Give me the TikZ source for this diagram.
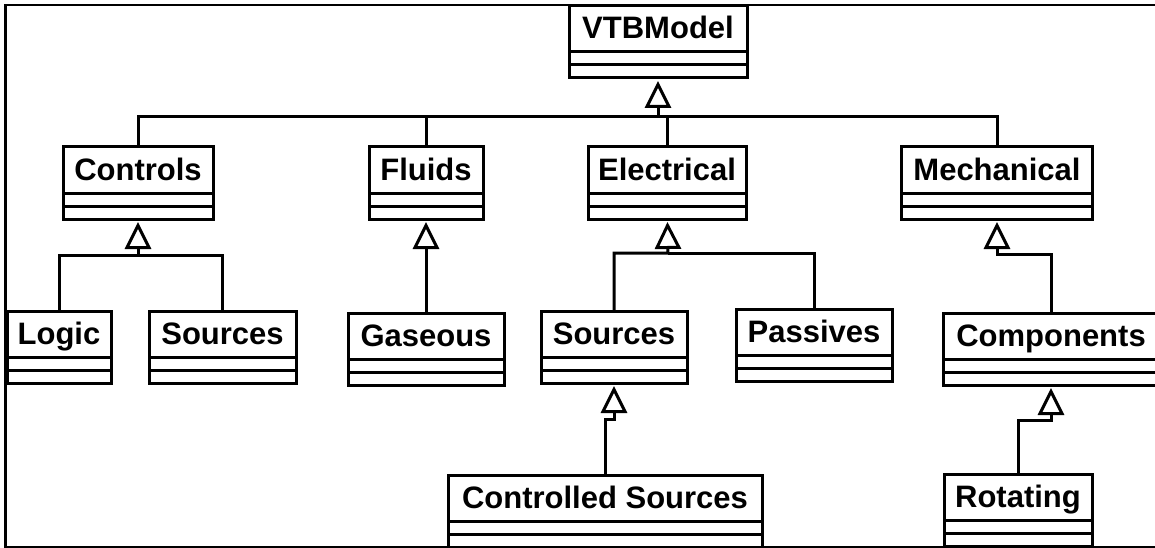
\documentclass[tikz,border=0pt]{standalone}
\usepackage{fontspec}
\setmainfont{Liberation Sans}
\usetikzlibrary{arrows.meta}

\newcommand{\compartments}[1]{%
  \draw[comp] (#1.south west) -- ++(0,26) -| (#1.south east)
    ([yshift=-13pt]#1.south west) -- ([yshift=-13pt]#1.south east);}

\begin{document}
\begin{tikzpicture}[x=1pt, y=-1pt,
    cls/.style = {draw, line width=3pt, inner sep=0pt, outer sep=0pt, minimum height=46pt,
      text height=22pt, text depth=2pt, font=\fontsize{31}{31}\selectfont\bfseries},
    comp/.style = {draw, line width=3pt},
    link/.style = {draw, line width=3pt},
    inh/.style = {link, -{Triangle[open, length=27pt, width=26pt, fill=white]}, shorten >=29pt}]
  \useasboundingbox (0,0) rectangle (1155,548);
  \clip (0,0) rectangle (1155,548);
  \draw[line width=2.2pt] (1155,5) -- (5.5,5) -- (5.5,547) -- (1155,547);

  \node[cls, minimum width=178] (vtb) at (658,29) {VTBModel};
  \node[cls, minimum width=150] (controls) at (138,170) {Controls};
  \node[cls, minimum width=114] (fluids) at (426,170) {Fluids};
  \node[cls, minimum width=158] (electrical) at (667,170) {Electrical};
  \node[cls, minimum width=191] (mechanical) at (997,170) {Mechanical};
  \node[cls, minimum width=104] (logic) at (59,334) {Logic};
  \node[cls, minimum width=147] (srcctrl) at (222.5,334) {Sources};
  \node[cls, minimum width=156] (gaseous) at (426,336) {Gaseous};
  \node[cls, minimum width=146] (srcelec) at (614,334) {Sources};
  \node[cls, minimum width=156] (passives) at (814,332) {Passives};
  \node[cls, minimum width=216] (components) at (1051,336) {Components};
  \node[cls, minimum width=314] (ctrlsrc) at (605,498) {Controlled Sources};
  \node[cls, minimum width=148] (rotating) at (1018,497) {Rotating};

  \foreach \n in {vtb, controls, fluids, electrical, mechanical, logic, srcctrl,
    gaseous, srcelec, passives, components, ctrlsrc, rotating}
    \compartments{\n};

  \coordinate (topbus) at (658,117);
  \coordinate (ctrlbus) at (138,255);
  \coordinate (elecbus) at (668,253);
  \coordinate (srcjog) at (614,419);
  \coordinate (mechjog) at (997,254);
  \coordinate (compjog) at (1051,420);

  \draw[inh] (electrical.north) |- (topbus) -- (vtb.south);
  \draw[link] (controls.north) |- (topbus);
  \draw[link] (fluids.north) |- (topbus);
  \draw[link] (mechanical.north) |- (topbus);
  \draw[inh] (logic.north) |- (ctrlbus) -- (controls.south);
  \draw[link] (srcctrl.north) |- (ctrlbus);
  \draw[inh] (gaseous.north) -- (fluids.south);
  \draw[inh] (srcelec.north) |- (elecbus) -- (electrical.south);
  \draw[link] (passives.north) |- (elecbus);
  \draw[inh] (ctrlsrc.north) |- (srcjog) -- (srcelec.south);
  \draw[inh] (components.north) |- (mechjog) -- (mechanical.south);
  \draw[inh] (rotating.north) |- (compjog) -- (components.south);
\end{tikzpicture}
\end{document}
